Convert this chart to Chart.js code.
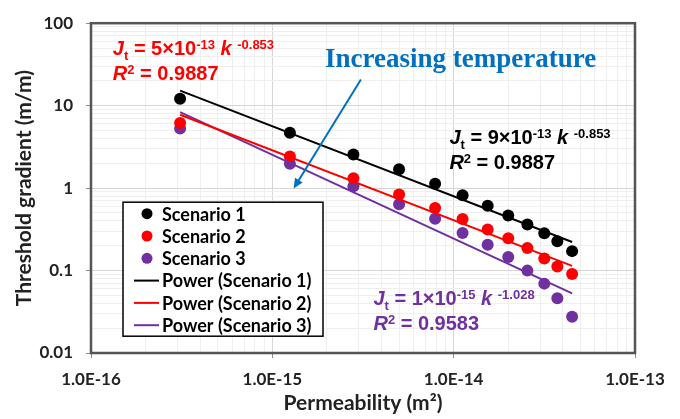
<!DOCTYPE html>
<html><head><meta charset="utf-8">
<script src="https://cdn.jsdelivr.net/npm/chart.js@4/dist/chart.umd.min.js"></script>
<style>
html,body{margin:0;padding:0;background:#fff;}
#wrap{position:relative;width:680px;height:419px;overflow:hidden;}
canvas{position:absolute;left:0;top:0;}
.eq{position:absolute;font-family:"Liberation Sans",Arial,sans-serif;font-weight:bold;font-size:20px;line-height:25px;white-space:nowrap;}
.eq i{font-style:italic;}
.eq sup{font-size:13px;vertical-align:0.5em;line-height:0;}
.eq sub{font-size:13px;vertical-align:-0.35em;line-height:0;}
#inc{position:absolute;font-family:"Liberation Serif","Times New Roman",serif;font-weight:bold;font-size:27px;line-height:27px;color:#0070C0;white-space:nowrap;}
</style></head>
<body>
<div id="wrap">
<canvas id="c" width="680" height="419"></canvas>
<div id="inc">Increasing temperature</div>
<div class="eq" id="eq2" style="color:#FF0000"><i>J</i><sub>t</sub> = 5×10<sup>-13</sup> <i>k</i> <sup>-0.853</sup><br><i>R</i><sup>2</sup> = 0.9887</div>
<div class="eq" id="eq1" style="color:#000000"><i>J</i><sub>t</sub> = 9×10<sup>-13</sup> <i>k</i> <sup>-0.853</sup><br><i>R</i><sup>2</sup> = 0.9887</div>
<div class="eq" id="eq3" style="color:#7030A0"><i>J</i><sub>t</sub> = 1×10<sup>-15</sup> <i>k</i> <sup>-1.028</sup><br><i>R</i><sup>2</sup> = 0.9583</div>
</div>
<script>
// ---- data ----
const permeability = [3.1e-16, 1.25e-15, 2.8e-15, 5.0e-15, 7.9e-15, 1.12e-14, 1.54e-14, 2.0e-14, 2.55e-14, 3.16e-14, 3.73e-14, 4.5e-14];
const scenario1 = [12.1, 4.68, 2.55, 1.69, 1.13, 0.82, 0.61, 0.465, 0.361, 0.283, 0.226, 0.172];
const scenario2 = [6.14, 2.42, 1.32, 0.838, 0.573, 0.421, 0.315, 0.247, 0.188, 0.140, 0.112, 0.091];
const scenario3 = [5.27, 1.98, 1.05, 0.638, 0.425, 0.286, 0.206, 0.146, 0.0998, 0.0694, 0.0462, 0.0275];
const seriesNames = ['Scenario 1', 'Scenario 2', 'Scenario 3'];
const seriesColors = ['#000000', '#FF0000', '#7030A0'];
const xTickLabels = ['1.0E-16', '1.0E-15', '1.0E-14', '1.0E-13'];
const yTickLabels = ['0.01', '0.1', '1', '10', '100'];
const xTitle = 'Permeability (m²)';
const yTitle = 'Threshold gradient (m/m)';
// annotation anchors (data space)
const arrowFrom = {x: 3.08e-15, y: 20.8};
const arrowTo = {x: 1.31e-15, y: 0.986};
const annotations = [
  {id: 'inc', x: 1.95e-15, y: 29.2, base: 22.6},
  {id: 'eq2', x: 1.32e-16, y: 41.1, base: 19.4},
  {id: 'eq1', x: 9.47e-15, y: 3.41, base: 19.4},
  {id: 'eq3', x: 3.61e-15, y: 0.0375, base: 19.4}
];

const seriesValues = [scenario1, scenario2, scenario3];

function powerTrend(xv, yv) {
  const lx = xv.map(Math.log10), ly = yv.map(Math.log10), n = lx.length;
  const mx = lx.reduce((a, b) => a + b, 0) / n, my = ly.reduce((a, b) => a + b, 0) / n;
  let sxx = 0, sxy = 0;
  for (let i = 0; i < n; i++) { sxx += (lx[i] - mx) ** 2; sxy += (lx[i] - mx) * (ly[i] - my); }
  const b = sxy / sxx, a = my - b * mx;
  return [xv[0], xv[n - 1]].map(x => ({x, y: Math.pow(10, a + b * Math.log10(x))}));
}
function isDecade(v) { const l = Math.log10(v); return Math.abs(l - Math.round(l)) < 1e-6; }
function logTicks(min, max) {
  const out = [];
  const e0 = Math.round(Math.log10(min)), e1 = Math.round(Math.log10(max));
  for (let e = e0; e < e1; e++) for (let m = 1; m < 10; m++) out.push({value: parseFloat(m + 'e' + e)});
  out.push({value: max});
  return out;
}
const xMin = parseFloat(xTickLabels[0]), xMax = parseFloat(xTickLabels[xTickLabels.length - 1]);
const yMin = parseFloat(yTickLabels[0]), yMax = parseFloat(yTickLabels[yTickLabels.length - 1]);

const datasets = [];
seriesNames.forEach((name, i) => {
  datasets.push({
    label: name, type: 'scatter',
    data: permeability.map((x, j) => ({x, y: seriesValues[i][j]})),
    backgroundColor: seriesColors[i], borderColor: seriesColors[i],
    pointRadius: 6, pointBorderWidth: 0, showLine: false, order: 2
  });
});
seriesNames.forEach((name, i) => {
  datasets.push({
    label: 'Power (' + name + ')', type: 'line',
    data: powerTrend(permeability, seriesValues[i]),
    borderColor: seriesColors[i], backgroundColor: seriesColors[i],
    borderWidth: 2, pointRadius: 0, fill: false, order: 1
  });
});

const tickFont = {family: 'Lato', weight: 'bold', size: 17};
const titleFont = {family: 'Lato', weight: 'bold', size: 21};
const gridColor = c => isDecade(c.tick.value) ? '#d6d6d6' : '#efefef';
const tickColor = c => isDecade(c.tick.value) ? '#8c8c8c' : 'rgba(0,0,0,0)';

const framePlugin = {
  id: 'frame',
  beforeDatasetsDraw(chart) {
    const {ctx, chartArea: a} = chart;
    ctx.save();
    ctx.strokeStyle = '#555555'; ctx.lineWidth = 2.5;
    ctx.strokeRect(a.left, a.top, a.right - a.left, a.bottom - a.top);
    ctx.restore();
  }
};
const arrowPlugin = {
  id: 'arrow',
  afterDatasetsDraw(chart) {
    const {ctx} = chart, xs = chart.scales.x, ys = chart.scales.y;
    const x1 = xs.getPixelForValue(arrowFrom.x), y1 = ys.getPixelForValue(arrowFrom.y);
    const x2 = xs.getPixelForValue(arrowTo.x), y2 = ys.getPixelForValue(arrowTo.y);
    const ang = Math.atan2(y2 - y1, x2 - x1), L = 10, W = 4.5;
    ctx.save();
    ctx.strokeStyle = '#0070C0'; ctx.fillStyle = '#0070C0'; ctx.lineWidth = 2;
    ctx.beginPath(); ctx.moveTo(x1, y1);
    ctx.lineTo(x2 - Math.cos(ang) * L * 0.8, y2 - Math.sin(ang) * L * 0.8); ctx.stroke();
    ctx.beginPath(); ctx.moveTo(x2, y2);
    ctx.lineTo(x2 - Math.cos(ang) * L - Math.sin(ang) * W, y2 - Math.sin(ang) * L + Math.cos(ang) * W);
    ctx.lineTo(x2 - Math.cos(ang) * L + Math.sin(ang) * W, y2 - Math.sin(ang) * L - Math.cos(ang) * W);
    ctx.closePath(); ctx.fill();
    ctx.restore();
  }
};
const legendPlugin = {
  id: 'boxLegend',
  afterDatasetsDraw(chart) {
    const {ctx, chartArea: a} = chart;
    const left = a.left + 32, top = a.top + 179, w = 200, h = 134, row = 22.3;
    ctx.save();
    ctx.fillStyle = '#ffffff'; ctx.fillRect(left, top, w, h);
    ctx.strokeStyle = '#000000'; ctx.lineWidth = 1.5; ctx.strokeRect(left, top, w, h);
    ctx.font = 'bold 18px Lato'; ctx.textBaseline = 'middle'; ctx.textAlign = 'left';
    chart.data.datasets.forEach((ds, i) => {
      const cy = top + 11.5 + i * row;
      if (ds.type === 'scatter') {
        ctx.fillStyle = ds.backgroundColor;
        ctx.beginPath(); ctx.arc(left + 24, cy, 5.5, 0, Math.PI * 2); ctx.fill();
      } else {
        ctx.strokeStyle = ds.borderColor; ctx.lineWidth = 2;
        ctx.beginPath(); ctx.moveTo(left + 11, cy); ctx.lineTo(left + 36, cy); ctx.stroke();
      }
      ctx.fillStyle = '#000000';
      ctx.fillText(ds.label, left + 39, cy + 1);
    });
    ctx.restore();
  },
  afterRender(chart) {
    const xs = chart.scales.x, ys = chart.scales.y;
    annotations.forEach(an => {
      const el = document.getElementById(an.id);
      el.style.left = xs.getPixelForValue(an.x) + 'px';
      el.style.top = (ys.getPixelForValue(an.y) - an.base) + 'px';
    });
  }
};

new Chart(document.getElementById('c'), {
  type: 'scatter',
  data: {datasets},
  options: {
    responsive: false, animation: false, devicePixelRatio: 1,
    layout: {padding: {top: 14, right: 45, left: 0, bottom: 0}},
    plugins: {legend: {display: false}, tooltip: {enabled: false}},
    scales: {
      x: {
        type: 'logarithmic', min: xMin, max: xMax,
        afterBuildTicks: s => { s.ticks = logTicks(xMin, xMax); },
        afterFit: s => { s.height = 66; },
        ticks: {autoSkip: false, maxRotation: 0, padding: 11, color: '#222222', font: tickFont,
          callback: v => isDecade(v) ? xTickLabels[Math.round(Math.log10(v / xMin))] : ''},
        grid: {color: gridColor, tickColor: tickColor, tickLength: 5, lineWidth: 1},
        border: {display: false},
        title: {display: true, text: xTitle, color: '#222222', font: titleFont, padding: {top: 0, bottom: 3}}
      },
      y: {
        type: 'logarithmic', min: yMin, max: yMax,
        afterBuildTicks: s => { s.ticks = logTicks(yMin, yMax); },
        afterFit: s => { s.width = 91; },
        ticks: {autoSkip: false, padding: 13, color: '#222222', font: tickFont,
          callback: v => isDecade(v) ? yTickLabels[Math.round(Math.log10(v / yMin))] : ''},
        grid: {color: gridColor, tickColor: tickColor, tickLength: 5, lineWidth: 1},
        border: {display: false},
        title: {display: true, text: yTitle, color: '#222222', font: titleFont, padding: {top: 12, bottom: 0}}
      }
    }
  },
  plugins: [framePlugin, arrowPlugin, legendPlugin]
});
</script>
</body></html>
